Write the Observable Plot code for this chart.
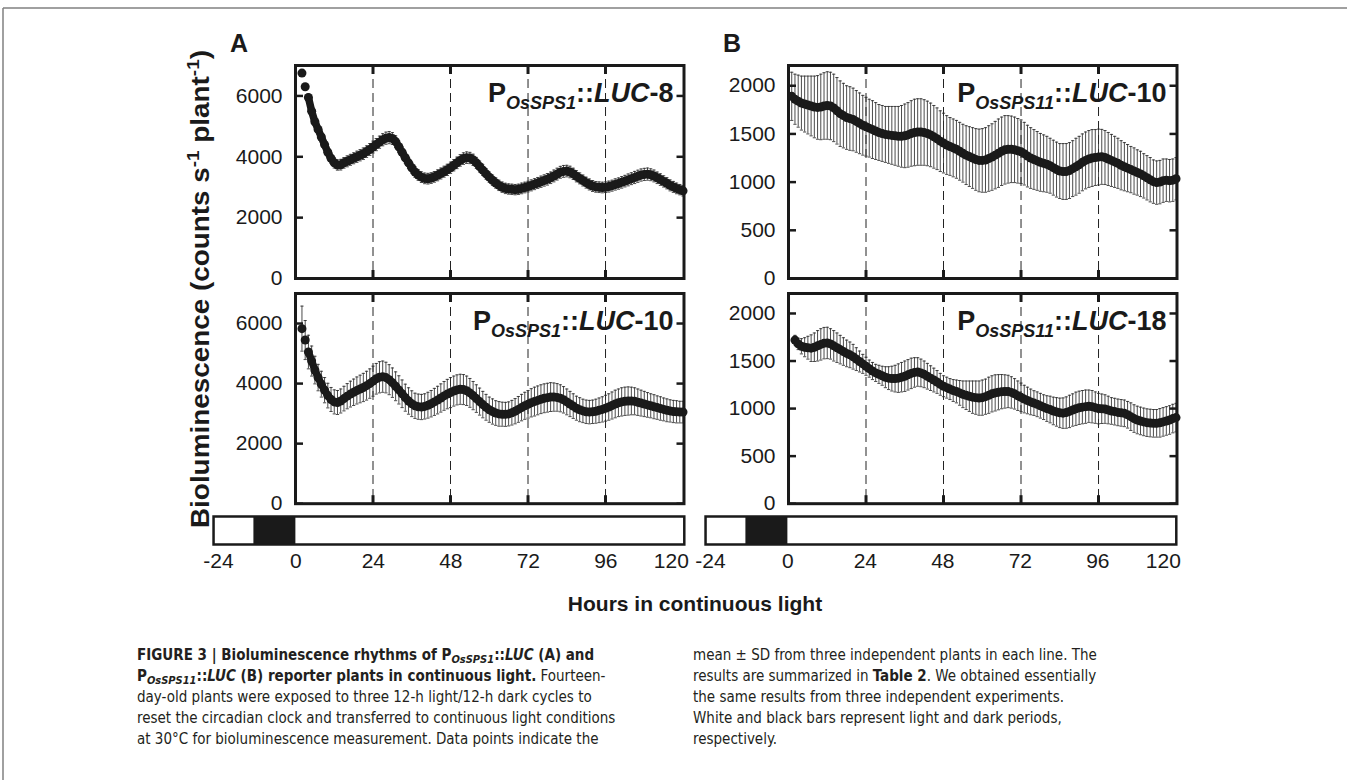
<!DOCTYPE html>
<html><head><meta charset="utf-8">
<script src="https://cdn.jsdelivr.net/npm/d3@7"></script>
<script src="https://cdn.jsdelivr.net/npm/@observablehq/plot@0.6"></script>
<style>
body{margin:0;background:#fff;}
#page{position:relative;width:1347px;height:780px;overflow:hidden;font-family:"Liberation Sans",Arial,Helvetica,sans-serif;color:#1a1a1a;}
.cap{position:absolute;font-family:"Liberation Sans Narrow","DejaVu Sans Condensed","Roboto Condensed",sans-serif;font-size:15px;line-height:21px;color:#231f20;white-space:nowrap;}
.cap sub{font-size:11px;vertical-align:-3px;line-height:0;}
</style></head><body><div id="page"></div>
<script>
// ---------- data ----------
const startA8 = 2;
const meanA8 = [6750,6300,5950,5500,5150,4900,4650,4400,4150,
3950,3800,3730,3740,3800,3850,3900,3950,4000,4050,
4100,4170,4240,4320,4400,4480,4560,4610,4630,4600,
4500,4330,4150,3970,3800,3640,3500,3400,3330,3290,
3280,3300,3340,3390,3450,3510,3570,3640,3720,3800,
3880,3940,3970,3960,3900,3800,3680,3560,3440,3330,
3230,3140,3060,3000,2960,2940,2930,2920,2930,2960,
2990,3020,3060,3100,3140,3180,3220,3260,3310,3370,
3430,3490,3520,3530,3500,3440,3360,3290,3220,3150,
3090,3040,3010,3000,2990,3000,3020,3050,3090,3120,
3160,3200,3240,3280,3320,3360,3400,3420,3430,3410,
3370,3310,3250,3190,3130,3060,3010,2960,2920,2880];
const sdA8 = [60,80,110,140,160,170,170,170,170,
170,170,170,175,175,180,180,180,185,185,
190,190,195,195,200,200,200,200,200,195,
190,185,180,180,180,175,175,175,175,175,
175,175,175,180,180,180,185,185,185,190,
190,190,190,185,185,180,180,175,175,170,
170,170,170,170,170,170,170,170,170,175,
175,175,180,180,180,185,185,190,190,195,
195,195,195,190,190,185,185,180,180,180,
180,180,175,175,175,175,180,180,185,185,
190,190,195,195,200,200,200,200,200,195,
195,190,190,185,185,180,180,175,170,170];

const startA10 = 2;
const meanA10 = [5830,5450,5050,4750,4450,4200,3980,3780,3600,
3470,3390,3370,3420,3500,3580,3650,3710,3770,3820,
3870,3930,4000,4080,4160,4210,4230,4200,4130,4030,
3910,3790,3660,3530,3420,3330,3260,3230,3220,3240,
3280,3330,3390,3450,3520,3590,3650,3700,3750,3790,
3810,3800,3760,3690,3600,3500,3400,3300,3210,3130,
3070,3020,2990,2980,2975,2990,3030,3080,3140,3200,
3260,3310,3360,3400,3440,3480,3510,3530,3550,3550,
3540,3510,3460,3390,3320,3250,3180,3130,3090,3060,
3050,3060,3080,3110,3140,3180,3220,3270,3320,3360,
3390,3410,3420,3420,3410,3380,3350,3320,3290,3260,
3230,3200,3170,3140,3110,3090,3070,3060,3050,3050];
const sdA10 = [750,650,560,500,460,440,430,420,410,
400,400,400,400,410,420,430,440,450,460,
470,480,490,500,510,520,520,510,500,490,
480,470,460,450,440,430,420,420,420,420,
430,440,450,460,470,480,490,500,500,500,
500,500,490,480,470,460,450,440,430,420,
420,410,410,400,400,400,410,420,430,440,
450,460,470,480,480,480,480,480,480,470,
460,450,440,430,420,410,400,400,390,390,
390,390,400,410,420,430,440,450,460,460,
470,470,470,460,450,440,430,420,410,400,
400,390,390,380,380,370,370,370,360,360];

const startB10 = 1;
const meanB10 = [1890,1860,1840,1820,1810,1800,1790,1780,1775,1780,
1790,1795,1790,1770,1740,1710,1690,1670,1660,1650,
1630,1610,1590,1575,1560,1545,1530,1515,1505,1495,
1490,1485,1480,1475,1475,1480,1490,1505,1515,1520,
1520,1515,1505,1490,1470,1450,1425,1405,1385,1370,
1355,1340,1320,1300,1280,1265,1250,1235,1225,1225,
1230,1245,1260,1280,1300,1320,1335,1340,1340,1335,
1325,1315,1295,1270,1250,1235,1220,1205,1195,1185,
1170,1150,1130,1115,1110,1110,1120,1140,1160,1180,
1205,1225,1240,1250,1255,1260,1262,1255,1240,1225,
1210,1195,1175,1160,1145,1130,1115,1100,1085,1065,
1045,1025,1005,995,1000,1015,1020,1015,1020,1035];
const sdB10 = [250,260,270,280,290,300,310,320,330,340,
345,350,350,350,345,340,335,330,330,325,
320,315,310,305,300,300,295,290,290,290,
295,300,305,310,320,330,335,340,345,345,
345,340,335,330,325,320,315,310,305,300,
300,300,300,300,305,310,315,320,325,330,
335,340,345,350,355,355,355,350,345,340,
335,330,325,320,315,310,305,300,295,290,
285,285,285,285,290,290,290,290,295,295,
295,295,295,295,290,290,285,280,275,270,
265,260,255,250,245,240,240,235,235,230,
230,230,225,225,225,225,220,220,220,220];

const startB18 = 2;
const meanB18 = [1720,1680,1655,1645,1640,1635,1645,1660,1675,
1688,1690,1680,1660,1640,1620,1600,1580,1565,1545,
1520,1495,1470,1445,1420,1395,1375,1360,1345,1330,
1320,1315,1315,1320,1330,1340,1355,1370,1380,1385,
1375,1360,1340,1320,1300,1280,1255,1235,1220,1205,
1190,1180,1165,1150,1140,1130,1120,1115,1110,1115,
1125,1140,1155,1165,1172,1178,1180,1180,1170,1155,
1135,1118,1100,1085,1070,1058,1045,1030,1015,1000,
990,975,965,955,952,958,970,985,998,1008,
1015,1020,1025,1020,1010,1000,998,995,985,975,
968,960,955,950,935,915,895,880,870,860,
852,848,845,845,850,860,870,880,895,905];
const sdB18 = [50,60,80,100,120,140,150,160,165,
165,165,160,160,155,150,145,140,135,130,
120,110,100,95,90,90,90,95,100,110,
120,130,140,150,155,160,160,160,155,150,
145,140,135,130,125,120,115,110,110,110,
115,120,130,140,150,160,170,175,180,185,
185,190,190,190,185,180,175,170,165,160,
155,150,145,140,135,130,130,130,130,135,
140,145,150,155,160,165,170,170,175,175,
175,175,170,170,165,160,155,150,145,140,
140,140,140,140,140,145,145,145,145,145,
145,145,145,145,150,150,150,150,150,150];

const yTicksA = [0, 2000, 4000, 6000];
const yTicksB = [0, 500, 1000, 1500, 2000];
const xTickLabels = [-24, 0, 24, 48, 72, 96];
const xTickLast = [120];
const dashHours = [24, 48, 72, 96];
const lightSchedule = [
  {from: -25.5, to: -13, phase: "light"},
  {from: -13, to: 0, phase: "dark"},
  {from: 0, to: 120.3, phase: "light"}
];
const panelLabels = [
  {sub: "OsSPS1", suffix: "-8"},
  {sub: "OsSPS1", suffix: "-10"},
  {sub: "OsSPS11", suffix: "-10"},
  {sub: "OsSPS11", suffix: "-18"}
];

// ---------- layout ----------
const page = document.getElementById("page");
const FONT = '"Liberation Sans", Arial, Helvetica, sans-serif';
const INK = "#1a1a1a";
const plotW = 388.5;
const xMax = 120.3;
const pxPerHour = plotW / xMax;
const colLeft = [295, 787.5];
const rows = [{top: 65, h: 213}, {top: 292.5, h: 210.2}];

const capSymbol = { draw(ctx, size) { const w = Math.sqrt(size / Math.PI); ctx.moveTo(-w, 0); ctx.lineTo(w, 0); } };

function place(node, left, top) {
  node.style.position = "absolute";
  node.style.left = left + "px";
  node.style.top = top + "px";
  page.appendChild(node);
}

function panel({mean, sd, start, yDomain, yTicks, lab, col, row}) {
  const mL = 72, mR = 14, mT = 8, mB = 8;
  const {top, h} = rows[row];
  const data = mean.map((m, i) => ({h: start + i, m, lo: m - sd[i], hi: m + sd[i]}));
  const svg = Plot.plot({
    width: mL + plotW + mR, height: mT + h + mB,
    marginLeft: mL, marginRight: mR, marginTop: mT, marginBottom: mB,
    x: {domain: [0, xMax], label: null},
    y: {domain: yDomain, label: null},
    style: {fontFamily: FONT, fontSize: "21px", color: INK, background: "transparent", overflow: "visible"},
    marks: [
      Plot.ruleX(dashHours, {stroke: "#222", strokeWidth: 1, strokeDasharray: "9,5"}),
      Plot.ruleX(data, {x: "h", y1: "lo", y2: "hi", stroke: "#2a2a2a", strokeWidth: 0.85}),
      Plot.dot(data, {x: "h", y: "hi", symbol: capSymbol, r: 1.6, fill: "none", stroke: "#2a2a2a", strokeWidth: 0.85}),
      Plot.dot(data, {x: "h", y: "lo", symbol: capSymbol, r: 1.6, fill: "none", stroke: "#2a2a2a", strokeWidth: 0.85}),
      Plot.line(data.slice(2), {x: "h", y: "m", stroke: INK, strokeWidth: 7.5, curve: "linear"}),
      Plot.dot(data, {x: "h", y: "m", r: 4.5, fill: INK, stroke: "none"}),
      Plot.axisY({ticks: yTicks, tickSize: 0, tickPadding: 13, tickFormat: d => String(d), fontSize: 21, label: null}),
      Plot.axisY({ticks: yTicks, tickSize: 8, dx: 8, fill: "none", strokeWidth: 2.5, label: null}),
      Plot.axisY({ticks: yTicks, anchor: "right", tickSize: 8, dx: -8, fill: "none", strokeWidth: 2.5, label: null}),
      Plot.axisX({ticks: dashHours, anchor: "top", tickSize: 8, dy: 8, fill: "none", strokeWidth: 3, label: null}),
      Plot.axisX({ticks: dashHours, anchor: "bottom", tickSize: 8, dy: -8, fill: "none", strokeWidth: 3, label: null}),
      Plot.frame({stroke: INK, strokeWidth: 3})
    ]
  });
  const t = d3.select(svg).append("text")
    .attr("x", mL + plotW - 10).attr("y", mT + 37)
    .attr("text-anchor", "end").attr("fill", INK)
    .style("font-family", FONT).style("font-weight", "bold").style("font-size", "27px");
  t.append("tspan").text("P");
  t.append("tspan").attr("dy", 7).style("font-size", "18px").style("font-style", "italic").text(lab.sub);
  t.append("tspan").attr("dy", -7).text("::");
  t.append("tspan").style("font-style", "italic").text("LUC");
  t.append("tspan").text(lab.suffix);
  place(svg, colLeft[col] - mL, top - mT);
}

function lightBar(col) {
  const mL = 20, mR = 20, mT = 3, mB = 40;
  const x0 = lightSchedule[0].from;
  const innerW = (xMax - x0) * pxPerHour;
  const svg = Plot.plot({
    width: mL + innerW + mR, height: mT + 28 + mB,
    marginLeft: mL, marginRight: mR, marginTop: mT, marginBottom: mB,
    x: {domain: [x0, xMax], label: null},
    y: {domain: [0, 1], axis: null},
    style: {fontFamily: FONT, fontSize: "21px", color: INK, background: "transparent", overflow: "visible"},
    marks: [
      Plot.rect(lightSchedule.filter(d => d.phase === "light"), {x1: "from", x2: "to", y1: 0, y2: 1, fill: "#fff"}),
      Plot.rect(lightSchedule.filter(d => d.phase === "dark"), {x1: "from", x2: "to", y1: 0, y2: 1, fill: INK}),
      Plot.frame({stroke: INK, strokeWidth: 2.5}),
      Plot.axisX({ticks: xTickLabels, tickSize: 0, tickPadding: 9, fontSize: 21, label: null, tickFormat: d => String(d)}),
      Plot.axisX({ticks: xTickLast, tickSize: 0, tickPadding: 9, fontSize: 21, label: null, dx: -12, tickFormat: d => String(d)})
    ]
  });
  place(svg, colLeft[col] + x0 * pxPerHour - mL, 516 - mT);
}

panel({mean: meanA8, sd: sdA8, start: startA8, yDomain: [0, 7000], yTicks: yTicksA, lab: panelLabels[0], col: 0, row: 0});
panel({mean: meanA10, sd: sdA10, start: startA10, yDomain: [0, 7000], yTicks: yTicksA, lab: panelLabels[1], col: 0, row: 1});
panel({mean: meanB10, sd: sdB10, start: startB10, yDomain: [0, 2210], yTicks: yTicksB, lab: panelLabels[2], col: 1, row: 0});
panel({mean: meanB18, sd: sdB18, start: startB18, yDomain: [0, 2210], yTicks: yTicksB, lab: panelLabels[3], col: 1, row: 1});
lightBar(0);
lightBar(1);

// ---------- overlay texts (titles, panel letters, frame) ----------
const ov = d3.create("svg").attr("width", 1347).attr("height", 780)
  .style("position", "absolute").style("left", "0px").style("top", "0px").style("pointer-events", "none");
ov.append("line").attr("x1", 3).attr("x2", 1347).attr("y1", 8).attr("y2", 8).attr("stroke", "#808080").attr("stroke-width", 1.5);
ov.append("line").attr("x1", 3).attr("x2", 3).attr("y1", 8).attr("y2", 780).attr("stroke", "#808080").attr("stroke-width", 1.5);
ov.append("text").attr("x", 230).attr("y", 52).text("A")
  .style("font-family", FONT).style("font-weight", "bold").style("font-size", "25px").attr("fill", INK);
ov.append("text").attr("x", 723).attr("y", 52).text("B")
  .style("font-family", FONT).style("font-weight", "bold").style("font-size", "25px").attr("fill", INK);
const yl = ov.append("text").attr("transform", "translate(209,289) rotate(-90)").attr("text-anchor", "middle")
  .attr("textLength", 478).attr("lengthAdjust", "spacingAndGlyphs")
  .style("font-family", FONT).style("font-weight", "bold").style("font-size", "25px").attr("fill", INK);
yl.append("tspan").text("Bioluminescence (counts s");
yl.append("tspan").attr("dy", -10).style("font-size", "17px").text("-1");
yl.append("tspan").attr("dy", 10).text(" plant");
yl.append("tspan").attr("dy", -10).style("font-size", "17px").text("-1");
yl.append("tspan").attr("dy", 10).text(")");
ov.append("text").attr("x", 695).attr("y", 611).attr("text-anchor", "middle").text("Hours in continuous light")
  .style("font-family", FONT).style("font-weight", "bold").style("font-size", "21px").attr("fill", INK);
page.appendChild(ov.node());

// ---------- caption ----------
const capL = document.createElement("div");
capL.className = "cap";
capL.style.left = "137px"; capL.style.top = "645px";
capL.innerHTML =
  '<b>FIGURE 3 | Bioluminescence rhythms of P<sub><i>OsSPS1</i></sub>::<i>LUC</i> (A) and</b><br>' +
  '<b>P<sub><i>OsSPS11</i></sub>::<i>LUC</i> (B) reporter plants in continuous light.</b> Fourteen-<br>' +
  'day-old plants were exposed to three 12-h light/12-h dark cycles to<br>' +
  'reset the circadian clock and transferred to continuous light conditions<br>' +
  'at 30°C for bioluminescence measurement. Data points indicate the';
page.appendChild(capL);
const capR = document.createElement("div");
capR.className = "cap";
capR.style.left = "693px"; capR.style.top = "645px";
capR.innerHTML =
  'mean ± SD from three independent plants in each line. The<br>' +
  'results are summarized in <b>Table 2</b>. We obtained essentially<br>' +
  'the same results from three independent experiments.<br>' +
  'White and black bars represent light and dark periods,<br>' +
  'respectively.';
page.appendChild(capR);
</script></body></html>
